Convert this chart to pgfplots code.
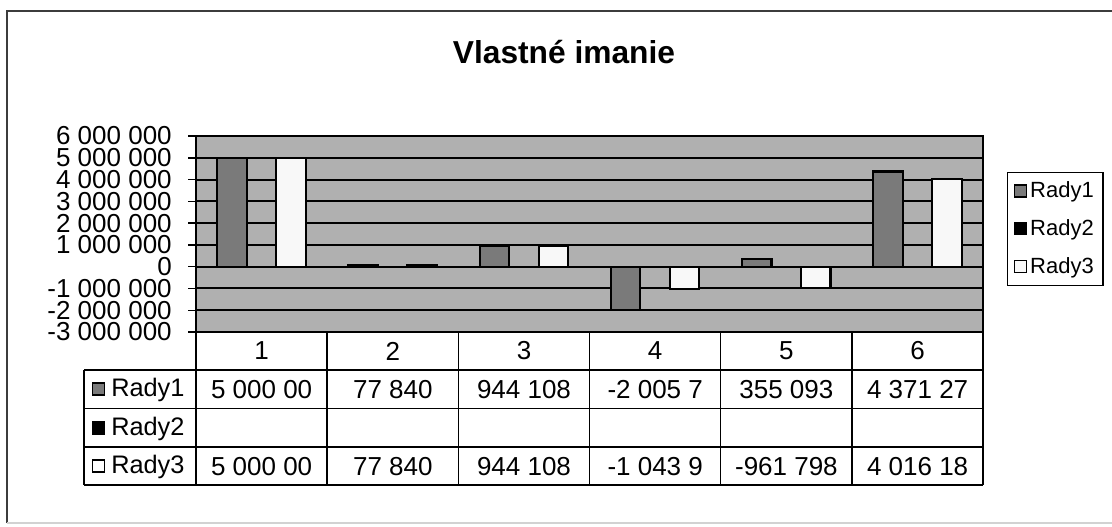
\documentclass[border=0pt]{standalone}
\usepackage{pgfplots}
\pgfplotsset{compat=1.18}
\usepackage{pgfplotstable}
\usepackage{fontspec}
\setmainfont{Liberation Sans}
\definecolor{bggray}{RGB}{176,176,176}
\definecolor{bar1}{RGB}{122,122,122}
\definecolor{bar3}{RGB}{248,248,248}
\definecolor{framegray}{RGB}{60,60,60}
\newcommand\tkf{\fontsize{19.5}{19.5}\selectfont}
\newcommand\lgf{\fontsize{16.5}{16.5}\selectfont}
\pgfplotsset{ybar legend/.style={legend image code/.code={\draw[##1,draw=black,line width=0.9pt] (0pt,-4.5pt) rectangle (9pt,4.5pt);}}}

\pgfplotstableread{
x r1 r3
1 5000000 5000000
2 77840 77840
3 944108 944108
4 -2005700 -1043900
5 355093 -961798
6 4371270 4016180
}\datatable

\begin{document}
\begin{tikzpicture}
\useasboundingbox (0pt,0pt) rectangle (834pt,-394.5pt);
\begin{axis}[
  at={(147pt,-249pt)}, anchor=south west,
  scale only axis, width=590.25pt, height=147pt,
  xmin=0.5, xmax=6.5, ymin=-3000000, ymax=6000000,
  xtick=\empty,
  ytick={-3000000,-2000000,-1000000,0,1000000,2000000,3000000,4000000,5000000,6000000},
  yticklabels={{\tkf -3 000 000},{\tkf -2 000 000},{\tkf -1 000 000},{\tkf 0},{\tkf 1 000 000},{\tkf 2 000 000},{\tkf 3 000 000},{\tkf 4 000 000},{\tkf 5 000 000},{\tkf 6 000 000}},
  scaled y ticks=false,
  ytick pos=left, tick align=outside, major tick length=6pt,
  tick style={black, line width=1.1pt},
  ymajorgrids, major grid style={black, line width=1.5pt},
  axis line style={black, line width=1.5pt},
  axis background/.style={fill=bggray},
  yticklabel style={font=\tkf, anchor=east, inner sep=0pt, xshift=-12pt},
  clip=false,
  legend image code/.code={\draw[#1,draw=black,line width=0.9pt] (0pt,-4.5pt) rectangle (9pt,4.5pt);},
  legend style={at={(axis description cs:1.0305,0.8163)}, anchor=north west, draw=black, line width=0.9pt, fill=white, font=\lgf, inner xsep=5pt, inner ysep=5pt, row sep=11pt},
  legend cell align=left,
]
\addplot[ybar, bar width=0.225, bar shift=-0.225, fill=bar1, draw=black, line width=1.6pt] table[x=x,y=r1]{\datatable};
\addlegendentry{\lgf Rady1}
\addlegendimage{fill=black, draw=black}
\addlegendentry{\lgf Rady2}
\addplot[ybar, bar width=0.225, bar shift=0.225, fill=bar3, draw=black, line width=1.6pt] table[x=x,y=r3]{\datatable};
\addlegendentry{\lgf Rady3}
\end{axis}
\begin{scope}[x=0.75pt,y=-0.75pt]
\draw[framegray, line width=1.5pt] (7,523) -- (7,11) -- (1125,11);
\draw[gray!35, line width=1pt] (7,523) -- (1125,523);
\node[font=\bfseries\fontsize{23.8}{24}\selectfont, anchor=base] at (564,63) {Vlastné imanie};
% table
\foreach \xx in {196,327.2,458.3,589.5,720.7,851.8,983} {\draw[black, line width=1.1pt] (\xx,332) -- (\xx,485);}
\foreach \yy in {370,408.5,447,485} {\draw[black, line width=1.1pt] (84,\yy) -- (983,\yy);}
\draw[black, line width=1.1pt] (84,370) -- (84,485);
\foreach \lab [count=\i from 0] in {1,2,3,4,5,6} {\node[font=\tkf] at (261.6+131.2*\i,351) {\lab};}
\foreach \lab [count=\i from 0] in {5 000 00,77 840,944 108,-2 005 7,355 093,4 371 27} {\node[font=\tkf] at (261.6+131.2*\i,389.5) {\lab};}
\foreach \lab [count=\i from 0] in {5 000 00,77 840,944 108,-1 043 9,-961 798,4 016 18} {\node[font=\tkf] at (261.6+131.2*\i,466.5) {\lab};}
\draw[fill=bar1, draw=black, line width=1pt] (92.5,383) rectangle (104.5,395);
\draw[fill=black, draw=black, line width=1pt] (92.5,422) rectangle (104.5,434);
\draw[fill=white, draw=black, line width=1pt] (92.5,460) rectangle (104.5,472);
\node[font=\fontsize{19}{19}\selectfont, anchor=west, inner sep=0pt] at (111,389.5) {Rady1};
\node[font=\fontsize{19}{19}\selectfont, anchor=west, inner sep=0pt] at (111,428.5) {Rady2};
\node[font=\fontsize{19}{19}\selectfont, anchor=west, inner sep=0pt] at (111,466.5) {Rady3};
\end{scope}
\end{tikzpicture}
\end{document}
